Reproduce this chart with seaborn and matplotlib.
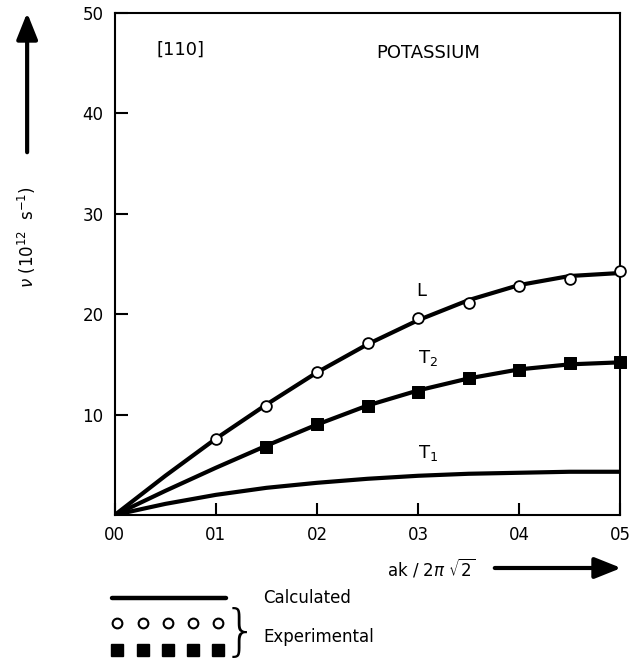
import numpy as np
import pandas as pd
import matplotlib
matplotlib.use("Agg")
import matplotlib.pyplot as plt
from matplotlib.lines import Line2D
import seaborn as sns

# ---- data ----
calc_x = [0.0, 0.05, 0.10, 0.15, 0.20, 0.25, 0.30, 0.35, 0.40, 0.45, 0.50]
calc_L = [0.0, 3.9, 7.6, 11.0, 14.2, 17.0, 19.4, 21.4, 22.9, 23.8, 24.1]
calc_T2 = [0.0, 2.4, 4.7, 6.9, 9.0, 10.9, 12.4, 13.6, 14.5, 15.0, 15.2]
calc_T1 = [0.0, 1.1, 2.0, 2.7, 3.2, 3.6, 3.9, 4.1, 4.2, 4.3, 4.3]

exp_L_x = [0.10, 0.15, 0.20, 0.25, 0.30, 0.35, 0.40, 0.45, 0.50]
exp_L_y = [7.6, 10.9, 14.2, 17.1, 19.6, 21.1, 22.8, 23.5, 24.3]
exp_T2_x = [0.15, 0.20, 0.25, 0.30, 0.35, 0.40, 0.45, 0.50]
exp_T2_y = [6.8, 9.1, 10.9, 12.2, 13.6, 14.4, 15.1, 15.2]

x_ticks = [0.0, 0.1, 0.2, 0.3, 0.4, 0.5]
x_tick_labels = ["00", "01", "02", "03", "04", "05"]
y_ticks = [10, 20, 30, 40, 50]
y_tick_labels = ["10", "20", "30", "40", "50"]

calc_df = pd.DataFrame({
    "x": calc_x * 3,
    "y": calc_L + calc_T2 + calc_T1,
    "branch": ["L"] * len(calc_x) + ["T2"] * len(calc_x) + ["T1"] * len(calc_x),
})

sns.set_theme(style="ticks")
plt.rcParams["font.family"] = ["DejaVu Sans"]
plt.rcParams["text.color"] = "black"
plt.rcParams["axes.labelcolor"] = "black"

fig = plt.figure(figsize=(6.31, 6.67), dpi=100)
ax = fig.add_axes([0.182, 0.228, 0.801, 0.7525])

sns.lineplot(data=calc_df, x="x", y="y", units="branch", estimator=None,
             color="black", lw=3.0, ax=ax, legend=False, sort=False)
sns.scatterplot(x=exp_L_x, y=exp_L_y, marker="o", s=60, facecolor="white",
                edgecolor="black", linewidth=1.3, ax=ax, zorder=5, clip_on=False)
sns.scatterplot(x=exp_T2_x, y=exp_T2_y, marker="s", s=80, color="black",
                edgecolor="black", ax=ax, zorder=5, clip_on=False)

ax.set_xlim(0, 0.5)
ax.set_ylim(0, 50)
ax.set_xticks(x_ticks)
ax.set_xticklabels(x_tick_labels)
ax.set_yticks(y_ticks)
ax.set_yticklabels(y_tick_labels)
ax.tick_params(direction="in", length=9, width=1.5, labelsize=12, colors="black", pad=8)
ax.set_xlabel("")
ax.set_ylabel("")
for s in ax.spines.values():
    s.set_linewidth(1.5)
    s.set_color("black")

# annotations inside plot
ax.text(0.065, 46.3, "[110]", fontsize=13, ha="center", va="center")
ax.text(0.31, 46.0, "POTASSIUM", fontsize=13, ha="center", va="center")
ax.text(0.303, 22.3, "L", fontsize=13, ha="center", va="center")
ax.text(0.31, 15.6, r"T$_2$", fontsize=13, ha="center", va="center")
ax.text(0.31, 6.2, r"T$_1$", fontsize=13, ha="center", va="center")

# y-axis label with arrow
fig.text(0.043, 0.645, r"$\nu$ (10$^{12}$  s$^{-1}$)", rotation=90, fontsize=12,
         ha="center", va="center")
fig.add_artist(matplotlib.patches.FancyArrowPatch(
    (0.043, 1 - 155 / 667), (0.043, 1 - 10 / 667), transform=fig.transFigure,
    arrowstyle="-|>,head_length=10,head_width=4", mutation_scale=1.6, lw=3, color="black"))

# x-axis label with arrow
fig.text(0.683, 1 - 568 / 667, r"ak / 2$\pi$ $\sqrt{2}$", fontsize=12, ha="center", va="center")
fig.add_artist(matplotlib.patches.FancyArrowPatch(
    (492 / 631, 1 - 568 / 667), (624 / 631, 1 - 568 / 667), transform=fig.transFigure,
    arrowstyle="-|>,head_length=10,head_width=4", mutation_scale=1.6, lw=3, color="black"))

# legend drawn by hand (figure coords)
fig.add_artist(Line2D([112 / 631, 226 / 631], [1 - 598 / 667, 1 - 598 / 667],
                      transform=fig.transFigure, color="black", lw=3.2))
legend_xs = [117, 143, 168, 193, 218]
fig.add_artist(Line2D([v / 631 for v in legend_xs], [1 - 623 / 667] * 5,
                      transform=fig.transFigure, ls="none", marker="o", ms=7,
                      mfc="white", mec="black", mew=1.5))
fig.add_artist(Line2D([v / 631 for v in legend_xs], [1 - 650 / 667] * 5,
                      transform=fig.transFigure, ls="none", marker="s", ms=8.5,
                      mfc="black", mec="black"))
fig.text(240 / 631, 1 - 634 / 667, "}", fontsize=40, ha="center", va="center",
         fontweight="ultralight", family=["DejaVu Sans"])
fig.text(263 / 631, 1 - 598 / 667, "Calculated", fontsize=12, ha="left", va="center")
fig.text(263 / 631, 1 - 637 / 667, "Experimental", fontsize=12, ha="left", va="center")

fig.savefig("out.png", dpi=100)
